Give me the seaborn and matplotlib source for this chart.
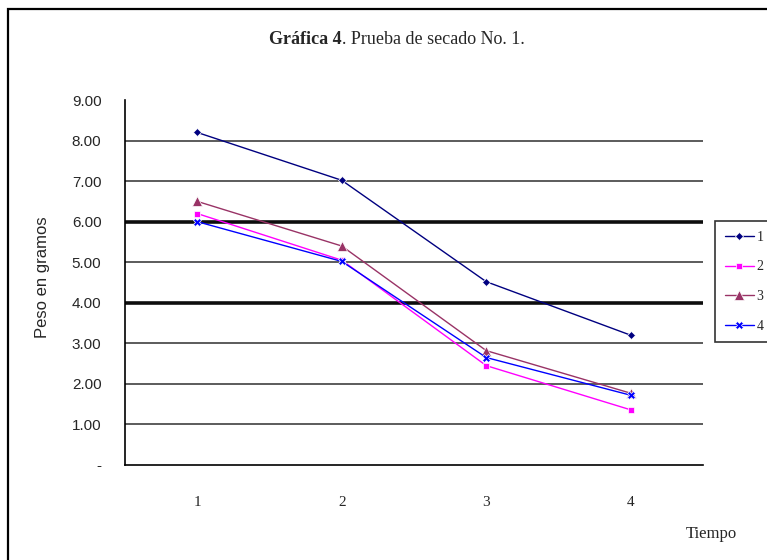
import matplotlib
matplotlib.use("Agg")
import matplotlib.pyplot as plt
from matplotlib.patches import Rectangle
import seaborn as sns
import pandas as pd

# Drying test No. 1: weight (g) of four samples over time
tiempo = [1, 2, 3, 4]
serie_1 = [8.20, 7.02, 4.52, 3.20]
serie_2 = [6.20, 5.05, 2.45, 1.36]
serie_3 = [6.50, 5.40, 2.82, 1.77]
serie_4 = [6.00, 5.02, 2.65, 1.72]
series_names = ["1", "2", "3", "4"]
y_tick_values = [0, 1, 2, 3, 4, 5, 6, 7, 8, 9]
y_tick_labels = ["-", "1.00", "2.00", "3.00", "4.00", "5.00", "6.00", "7.00", "8.00", "9.00"]

rows = []
for name, vals in zip(series_names, [serie_1, serie_2, serie_3, serie_4]):
    for t, v in zip(tiempo, vals):
        rows.append({"Tiempo": t, "Peso": v, "Serie": name})
df = pd.DataFrame(rows)

sns.set_style("white")
plt.rcParams["font.family"] = ["Liberation Serif", "DejaVu Serif"]

palette = {"1": "#000080", "2": "#FF00FF", "3": "#993366", "4": "#0000FF"}
markers = {"1": "D", "2": "s", "3": "^", "4": "X"}
# per-marker sizes so the glyphs look alike in weight
marker_size = {"D": 4, "s": 5, "^": 7, "X": 6}

fig = plt.figure(figsize=(7.67, 5.6), dpi=100)
ax = fig.add_axes([125 / 767, 1 - 465 / 560, 578 / 767, 365 / 560])

sns.lineplot(data=df, x="Tiempo", y="Peso", hue="Serie", style="Serie",
             palette=palette, markers=markers, dashes=False,
             linewidth=1.0, markersize=5, markeredgewidth=0.5,
             ax=ax, legend=True)

ax.set_xlim(0.5, 4.5)
ax.set_ylim(0, 9)

# horizontal grid, heavier at 4 and 6
for v in y_tick_values[1:-1]:
    heavy = v in (4, 6)
    ax.axhline(v, color="black", linewidth=2.6 if heavy else 1.2,
               zorder=0.5, alpha=0.95 if heavy else 0.75)

ax.set_yticks(y_tick_values)
ax.set_yticklabels(y_tick_labels, fontfamily="Liberation Sans", fontsize=11)
ax.set_xticks(tiempo)
ax.set_xticklabels([str(t) for t in tiempo], fontsize=11)
ax.set_xticks([0.5, 1.5, 2.5, 3.5, 4.5], minor=True)
ax.tick_params(axis="x", which="major", length=0, pad=22)
ax.tick_params(axis="x", which="minor", length=4, width=1, direction="out", color="black")
ax.tick_params(axis="y", length=7, width=1, direction="out", color="black", pad=10)

for side in ("top", "right"):
    ax.spines[side].set_visible(False)
for side in ("left", "bottom"):
    ax.spines[side].set_color("black")
    ax.spines[side].set_linewidth(1.2)

ax.set_ylabel("Peso en gramos", fontfamily="Liberation Sans", fontsize=12)
ax.yaxis.set_label_coords(-0.13, 0.515)
ax.set_xlabel("Tiempo", fontsize=12)
ax.xaxis.set_label_coords(1.014, -0.166)

leg = ax.legend(title=None, loc="upper left",
                bbox_to_anchor=(715 / 767, 1 - 221 / 560),
                bbox_transform=fig.transFigure,
                frameon=True, fancybox=False, edgecolor="black",
                fontsize=10, handlelength=2.1, labelspacing=1.2,
                borderpad=0.7, borderaxespad=0, handletextpad=0.2)
leg.get_frame().set_linewidth(1.2)

for line in list(ax.lines) + list(leg.get_lines()):
    m = line.get_marker()
    if isinstance(m, str) and m in marker_size:
        line.set_markersize(marker_size[m])

# title with bold lead-in, centred as one line
title_y = 1 - 40 / 560
bold_part = fig.text(0, title_y, "Gráfica 4", ha="left", va="center",
                     fontsize=13, fontweight="bold")
rest_part = fig.text(0, title_y, ". Prueba de secado No. 1.", ha="left",
                     va="center", fontsize=13)
renderer = fig.canvas.get_renderer()
w_bold = bold_part.get_window_extent(renderer).width
w_rest = rest_part.get_window_extent(renderer).width
x0 = 397 - (w_bold + w_rest) / 2
bold_part.set_x(x0 / 767)
rest_part.set_x((x0 + w_bold) / 767)

# chart-area border
fig.patches.append(Rectangle((8 / 767, -0.2), 1.3, 1 - 9 / 560 + 0.2,
                             transform=fig.transFigure, fill=False,
                             edgecolor="black", linewidth=1.6))

fig.savefig("out.png", dpi=100)
